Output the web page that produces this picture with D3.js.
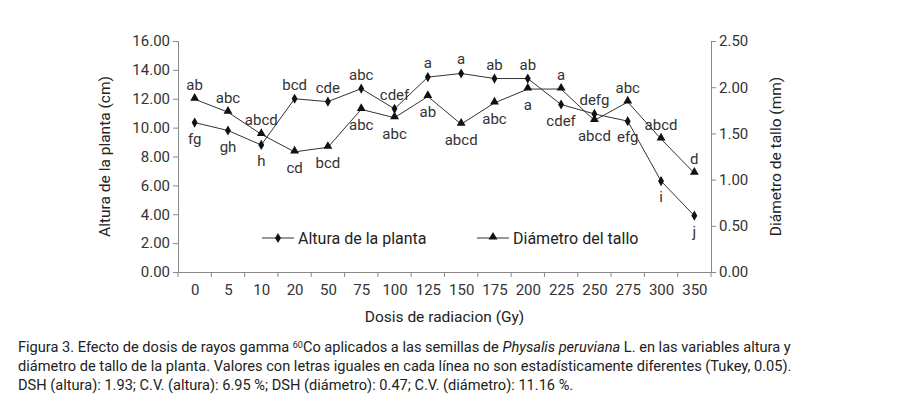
<!DOCTYPE html>
<html><head><meta charset="utf-8">
<script src="https://cdn.jsdelivr.net/npm/d3@7"></script>
<style>
body{margin:0;background:#fff;font-family:Roboto,sans-serif;}
.cap{position:absolute;left:18px;top:336px;width:890px;font-size:14.6px;line-height:19px;color:#222;white-space:nowrap;}
</style></head>
<body>
<svg id="chart" width="900" height="330"></svg>
<div class="cap">Figura 3. Efecto de dosis de rayos gamma <span style="font-size:9px;vertical-align:4px">60</span>Co aplicados a las semillas de <i>Physalis peruviana</i> L. en las variables altura y<br>diámetro de tallo de la planta. Valores con letras iguales en cada línea no son estadísticamente diferentes (Tukey, 0.05).<br>DSH (altura): 1.93; C.V. (altura): 6.95 %; DSH (diámetro): 0.47; C.V. (diámetro): 11.16 %.</div>
<script>
let doses = ['0','5','10','20','50','75','100','125','150','175','200','225','250','275','300','350'];
let altura = [10.35, 9.8, 8.8, 12.0, 11.8, 12.7, 11.3, 13.5, 13.75, 13.4, 13.4, 11.6, 10.95, 10.45, 6.3, 3.9];
let diametro = [1.87, 1.73, 1.49, 1.30, 1.35, 1.76, 1.67, 1.90, 1.60, 1.83, 1.98, 1.98, 1.64, 1.84, 1.44, 1.07];
let alturaLetters = ['fg','gh','h','bcd','cde','abc','cdef','a','a','ab','ab','cdef','defg','efg','i','j'];
let alturaAbove = [0,0,0,1,1,1,1,1,1,1,1,0,1,0,0,0];
let diamLetters = ['ab','abc','abcd','cd','bcd','abc','abc','ab','abcd','abc','a','a','abcd','abc','abcd','d'];
let diamAbove = [1,1,1,0,0,0,0,0,0,0,0,1,0,1,1,1];
let leftTicks = [0,2,4,6,8,10,12,14,16];
let rightTicks = [0,0.5,1,1.5,2,2.5];

let svg = d3.select('#chart');
let pLeft = 178, pRight = 711, pTop = 41, pBottom = 272;

let x = d3.scalePoint().domain(doses).range([pLeft, pRight]).padding(0.5);
let yL = d3.scaleLinear().domain([0, 16]).range([pBottom, pTop]);
let yR = d3.scaleLinear().domain([0, 2.5]).range([pBottom, pTop]);
let grey = '#888';

// axes
let axL = svg.append('g').attr('transform', `translate(${pLeft},0)`)
  .call(d3.axisLeft(yL).tickValues(leftTicks).tickFormat(d3.format('.2f')).tickSizeOuter(0).tickSize(5));
let axR = svg.append('g').attr('transform', `translate(${pRight},0)`)
  .call(d3.axisRight(yR).tickValues(rightTicks).tickFormat(d3.format('.2f')).tickSizeOuter(0).tickSize(5));
let axB = svg.append('g').attr('transform', `translate(0,${pBottom})`)
  .call(d3.axisBottom(x).tickSize(0).tickPadding(12));
// category boundary ticks
let step = x.step();
svg.append('g').selectAll('line').data(d3.range(doses.length + 1)).join('line')
  .attr('x1', i => pLeft + i * step).attr('x2', i => pLeft + i * step)
  .attr('y1', pBottom).attr('y2', pBottom + 5).attr('stroke', grey);
[axL, axR, axB].forEach(a => {
  a.selectAll('path,line').attr('stroke', grey);
  a.selectAll('text').attr('font-family', 'Roboto').attr('font-size', 15).attr('fill', '#333');
});

svg.append('text').attr('transform', `translate(110,${(pTop + pBottom) / 2}) rotate(-90)`)
  .attr('text-anchor', 'middle').attr('font-size', 15.5).attr('fill', '#222').text('Altura de la planta (cm)');
svg.append('text').attr('transform', `translate(781,${(pTop + pBottom) / 2}) rotate(-90)`)
  .attr('text-anchor', 'middle').attr('font-size', 15.5).attr('fill', '#222').text('Diámetro de tallo (mm)');
svg.append('text').attr('x', (pLeft + pRight) / 2).attr('y', 322).attr('text-anchor', 'middle')
  .attr('font-size', 15.5).attr('fill', '#222').text('Dosis de radiacion (Gy)');

let lineCol = '#333';
// altura series
svg.append('path').datum(altura)
  .attr('d', d3.line().x((d, i) => x(doses[i])).y(d => yL(d)))
  .attr('fill', 'none').attr('stroke', lineCol).attr('stroke-width', 1);
svg.append('g').selectAll('path').data(altura).join('path')
  .attr('d', d3.symbol(d3.symbolDiamond, 30))
  .attr('transform', (d, i) => `translate(${x(doses[i])},${yL(d)})`).attr('fill', '#111');
// diametro series
svg.append('path').datum(diametro)
  .attr('d', d3.line().x((d, i) => x(doses[i])).y(d => yR(d)))
  .attr('fill', 'none').attr('stroke', lineCol).attr('stroke-width', 1);
svg.append('g').selectAll('path').data(diametro).join('path')
  .attr('d', d3.symbol(d3.symbolTriangle, 34))
  .attr('transform', (d, i) => `translate(${x(doses[i])},${yR(d) - 1})`).attr('fill', '#111');

// letters
function letters(vals, lbls, above, scale) {
  svg.append('g').selectAll('text').data(vals).join('text')
    .attr('x', (d, i) => x(doses[i]))
    .attr('y', (d, i) => scale(d) + (above[i] ? -9 : 21))
    .attr('text-anchor', 'middle').attr('font-size', 15).attr('fill', '#333')
    .text((d, i) => lbls[i]);
}
letters(altura, alturaLetters, alturaAbove, yL);
letters(diametro, diamLetters, diamAbove, yR);

// legend
let lg = svg.append('g').attr('transform', 'translate(262,238)');
lg.append('line').attr('x1', 0).attr('x2', 32).attr('stroke', lineCol);
lg.append('path').attr('d', d3.symbol(d3.symbolDiamond, 30)).attr('transform', 'translate(16,0)').attr('fill', '#111');
lg.append('text').attr('x', 36).attr('y', 6).attr('font-size', 16).attr('fill', '#222').text('Altura de la planta');
lg.append('line').attr('x1', 215).attr('x2', 247).attr('stroke', lineCol);
lg.append('path').attr('d', d3.symbol(d3.symbolTriangle, 34)).attr('transform', 'translate(231,-1)').attr('fill', '#111');
lg.append('text').attr('x', 251).attr('y', 6).attr('font-size', 16).attr('fill', '#222').text('Diámetro del tallo');
</script>
</body></html>
